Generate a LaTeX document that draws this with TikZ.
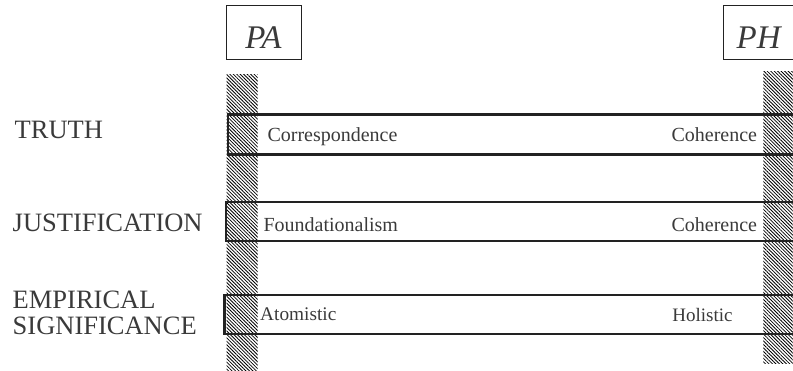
\documentclass[tikz,border=0pt]{standalone}
\usepackage{fontspec}
\setmainfont{Liberation Serif}
\usetikzlibrary{patterns.meta}
\definecolor{ink}{HTML}{222222}
\definecolor{txt}{HTML}{3A3A3A}
\begin{document}
\begin{tikzpicture}[x=1pt,y=-1pt,
  hatch/.style={pattern={Lines[angle=-45,distance=2.45pt,line width=0.8pt]},pattern color=black},
  bar/.style={draw=ink,line width=2.2pt},
  tagbox/.style={draw=ink,line width=1.2pt},
  tag/.style={text=txt,font=\fontsize{33}{33}\selectfont\itshape,inner sep=0pt},
  rowlabel/.style={text=txt,font=\fontsize{26.5}{26.7}\selectfont,inner sep=0pt,align=left},
  pole/.style={text=txt,font=\fontsize{20}{20}\selectfont,inner sep=0pt}]
\useasboundingbox (0,0) rectangle (793,371);

% pole tags
\draw[tagbox] (226.7,5.7) rectangle (301.7,59.3);
\node[tag,anchor=base] (pa) at (263.5,48.3) {PA};
\draw[tagbox] (723.3,5.7) rectangle (796,59.3);
\node[tag,anchor=base west] (ph) at (736.5,48.3) {PH};

% hatched poles
\fill[hatch] (226.7,75) rectangle (257.7,371);
\fill[hatch] (763.3,71.7) rectangle (795,363.3);

% spectrum bars
\draw[bar] (796,114.5) -| (228,154.5) -- (796,154.5);
\draw[bar] (796,202.3) -| (226,241.3) -- (796,241.3);
\draw[bar] (796,294.7) -| (224.5,333.7) -- (796,333.7);

% row labels
\node[rowlabel,anchor=base west] (truth) at (14.5,138.3) {TRUTH};
\node[rowlabel,anchor=base west] (just) at (12.5,231.5) {JUSTIFICATION};
\node[rowlabel,anchor=base west] (emp) at (12.5,335) {EMPIRICAL\\SIGNIFICANCE};

% pole positions on each bar
\node[pole,anchor=base west] (corr) at (267.3,141.6) {Correspondence};
\node[pole,anchor=base east] (coh1) at (757.3,141.6) {Coherence};
\node[pole,anchor=base west] (found) at (263.3,231.6) {Foundationalism};
\node[pole,anchor=base east] (coh2) at (757.3,231.6) {Coherence};
\node[pole,anchor=base west,font=\fontsize{19.3}{19.3}\selectfont] (atom) at (260,320.5) {Atomistic};
\node[pole,anchor=base east,font=\fontsize{19}{19}\selectfont] (hol) at (732.7,321.5) {Holistic};
\end{tikzpicture}
\end{document}
